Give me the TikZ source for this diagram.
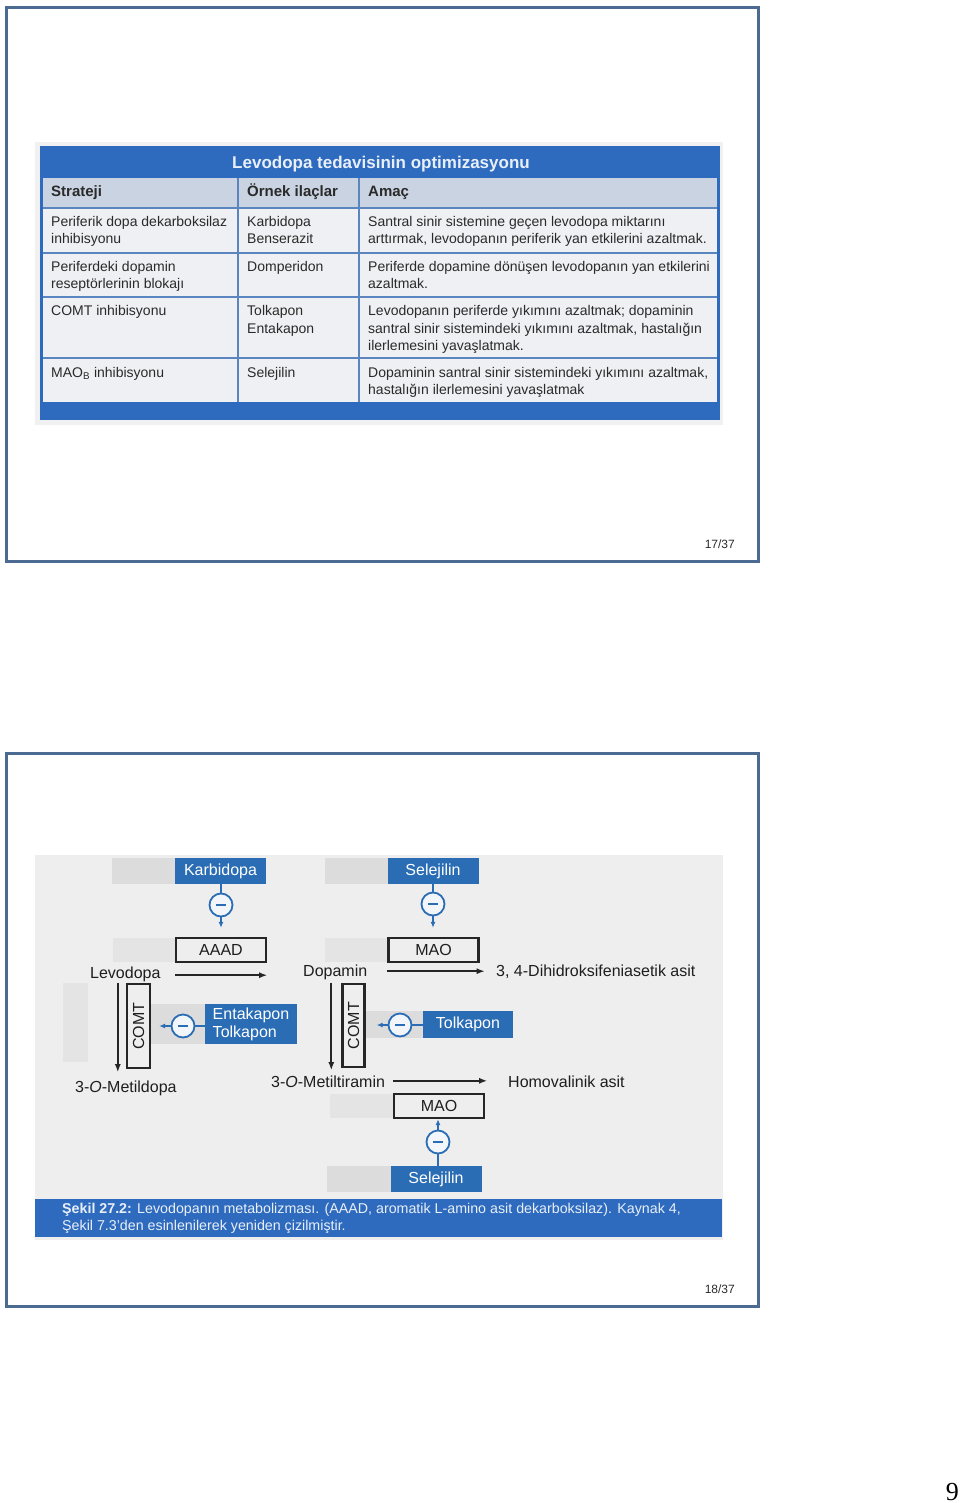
\documentclass[tikz,border=0pt]{standalone}
\usepackage{fontspec}
\setmainfont{Liberation Sans}
\newfontfamily\pgserif{Liberation Serif}
\usetikzlibrary{arrows.meta}
\definecolor{frameblue}{HTML}{4B6B93}
\definecolor{tblue}{HTML}{2E6BBE}
\definecolor{sepblue}{HTML}{5A85BE}
\definecolor{hdrbg}{HTML}{C9D3E1}
\definecolor{rowbg}{HTML}{EEF0F3}
\definecolor{scanbg}{HTML}{F1F1F1}
\definecolor{diagbg}{HTML}{EEEEEE}
\definecolor{greyblk}{HTML}{DCDCDC}
\definecolor{greylt}{HTML}{E4E4E4}
\definecolor{dblue}{HTML}{2A6DB5}
\definecolor{tabtext}{HTML}{2A2A2A}
\definecolor{dtext}{HTML}{1E1E1E}
\definecolor{captext}{HTML}{E9EFF8}
\definecolor{circfill}{HTML}{F2F5F9}
\tikzset{
  slideframe/.style={draw=frameblue, line width=3pt},
  cell/.style={anchor=base west, inner sep=0pt, text=tabtext, font=\fontsize{14}{17}\selectfont},
  hdrcell/.style={anchor=base west, inner sep=0pt, text=tabtext, font=\bfseries\fontsize{15}{17}\selectfont},
  dlabel/.style={anchor=base west, inner sep=0pt, text=dtext, font=\fontsize{16}{18}\selectfont},
  bluebox/.style={fill=dblue, text=white, minimum width=91pt, minimum height=26pt, inner sep=0pt, font=\fontsize{16}{18}\selectfont},
  enzbox/.style={draw=black!85, line width=2.4pt, minimum width=90pt, minimum height=24pt, inner sep=0pt, text=dtext, font=\fontsize{16}{18}\selectfont},
  inhib/.style={circle, draw=dblue, line width=1.8pt, fill=circfill, minimum size=23pt, inner sep=0pt,
    path picture={\draw[dblue, line width=2.8pt] ([xshift=-5pt]path picture bounding box.center) -- ([xshift=5pt]path picture bounding box.center);}},
  inhline/.style={draw=dblue, line width=1.9pt},
  inharrow/.style={draw=dblue, line width=1.9pt, -{Latex[length=6pt,width=5pt]}},
  flow/.style={draw=black!85, line width=2.2pt, -{Latex[length=8pt,width=6pt]}},
  pagenum/.style={anchor=base east, inner sep=0pt, text=tabtext, font=\fontsize{12}{14}\selectfont}
}
\begin{document}
\begin{tikzpicture}[x=1pt,y=-1pt]
\useasboundingbox[fill=white] (0,0) rectangle (960,1503);

% ---------- slide frames ----------
\draw[slideframe] (6,8) rectangle (758,561);
\draw[slideframe] (6,753) rectangle (758,1306);

% ---------- table (slide 17) ----------
\fill[scanbg] (35,142) rectangle (723,425);
\fill[rowbg] (40,146) rectangle (720,420);
\fill[tblue] (40,146) rectangle (720,178);
\fill[hdrbg] (43,178) rectangle (717,208);
\fill[tblue] (40,402) rectangle (720,420);
\draw[tblue, line width=3pt] (41.5,178) -- (41.5,402);
\draw[tblue, line width=3pt] (718.5,178) -- (718.5,402);
\foreach \yy in {208,253,297,358}{\draw[sepblue, line width=1.5pt] (43,\yy) -- (717,\yy);}
\foreach \xx in {238,359}{\draw[sepblue, line width=1.5pt] (\xx,178) -- (\xx,402);}

\node[anchor=base, inner sep=0pt, text=captext, font=\bfseries\fontsize{17}{20}\selectfont] (ttl) at (381,169) {Levodopa tedavisinin optimizasyonu};
\node[hdrcell] (h1) at (51,197) {Strateji};
\node[hdrcell] (h2) at (247,197) {Örnek ilaçlar};
\node[hdrcell] (h3) at (368,197) {Amaç};

\node[cell] (a1) at (51,227) {Periferik dopa dekarboksilaz};
\node[cell] (a1b) at (51,244) {inhibisyonu};
\node[cell] (b1) at (247,227) {Karbidopa};
\node[cell] (b1b) at (247,244) {Benserazit};
\node[cell] (c1t) at (368,227) {Santral sinir sistemine geçen levodopa miktarını};
\node[cell] (c1b) at (368,244) {arttırmak, levodopanın periferik yan etkilerini azaltmak.};

\node[cell] (a2) at (51,272) {Periferdeki dopamin};
\node[cell] (a2b) at (51,289) {reseptörlerinin blokajı};
\node[cell] (b2) at (247,272) {Domperidon};
\node[cell] (c2t) at (368,272) {Periferde dopamine dönüşen levodopanın yan etkilerini};
\node[cell] (c2b) at (368,289) {azaltmak.};

\node[cell] (a3) at (51,316) {COMT inhibisyonu};
\node[cell] (b3) at (247,316) {Tolkapon};
\node[cell] (b3b) at (247,333) {Entakapon};
\node[cell] (c3t) at (368,316) {Levodopanın periferde yıkımını azaltmak; dopaminin};
\node[cell] (c3m) at (368,333) {santral sinir sistemindeki yıkımını azaltmak, hastalığın};
\node[cell] (c3b) at (368,350) {ilerlemesini yavaşlatmak.};

\node[cell] (a4) at (51,377) {MAO\textsubscript{B} inhibisyonu};
\node[cell] (b4) at (247,377) {Selejilin};
\node[cell] (c4t) at (368,377) {Dopaminin santral sinir sistemindeki yıkımını azaltmak,};
\node[cell] (c4b) at (368,394) {hastalığın ilerlemesini yavaşlatmak};

\node[pagenum] (p17) at (735,548) {17/37};

% ---------- diagram (slide 18) ----------
\fill[diagbg] (35,855) rectangle (723,1240);
% grey shadow blocks
\fill[greyblk] (112,858) rectangle (176,884);
\fill[greyblk] (325,858) rectangle (389,884);
\fill[greylt] (113,938) rectangle (176,962);
\fill[greylt] (325,938) rectangle (389,962);
\fill[greylt] (63,983) rectangle (88,1062);
\fill[greyblk] (150,1004) rectangle (206,1044);
\fill[greyblk] (366,1011) rectangle (424,1038);
\fill[greylt] (330,1094) rectangle (394,1118);
\fill[greyblk] (327,1166) rectangle (392,1192);

% blue drug boxes
\node[bluebox] (kb) at (220.5,871) {Karbidopa};
\node[bluebox] (sel1) at (433,871) {Selejilin};
\node[bluebox, minimum width=92pt, minimum height=40pt, align=left, font=\fontsize{16}{18}\selectfont] (ent) at (251,1024) {Entakapon\\Tolkapon};
\node[bluebox, minimum width=90pt, minimum height=27pt] (tol) at (468,1024.5) {Tolkapon};
\node[bluebox] (sel2) at (436,1179) {Selejilin};

% enzyme boxes
\node[enzbox] (aaad) at (221,950) {AAAD};
\node[enzbox] (mao1) at (433.5,950) {MAO};
\node[enzbox] (mao2) at (439,1106) {MAO};
\node[enzbox, minimum width=23pt, minimum height=84pt] (comt1) at (138.5,1026) {};
\node[rotate=90, inner sep=0pt, text=dtext, font=\fontsize{16}{18}\selectfont] (comt1t) at (comt1.center) {COMT};
\node[enzbox, minimum width=22pt, minimum height=83pt] (comt2) at (353.5,1025.5) {};
\node[rotate=90, inner sep=0pt, text=dtext, font=\fontsize{16}{18}\selectfont] (comt2t) at (comt2.center) {COMT};

% inhibition circles
\node[inhib] (i1) at (221,905) {};
\node[inhib] (i2) at (433,904) {};
\node[inhib] (i3) at (183,1026) {};
\node[inhib] (i4) at (400,1025) {};
\node[inhib] (i5) at (438,1142) {};

\draw[inhline] (i1.north |- kb.south) -- (i1.north);
\draw[inharrow] (i1.south) -- ([yshift=9pt]i1.south |- aaad.north);
\draw[inhline] (i2.north |- sel1.south) -- (i2.north);
\draw[inharrow] (i2.south) -- ([yshift=9pt]i2.south |- mao1.north);
\draw[inhline] (ent.west |- i3.east) -- (i3.east);
\draw[inharrow] (i3.west) -- ([xshift=8pt]comt1.east |- i3.west);
\draw[inhline] (tol.west |- i4.east) -- (i4.east);
\draw[inharrow] (i4.west) -- ([xshift=11pt]comt2.east |- i4.west);
\draw[inhline] (i5.south |- sel2.north) -- (i5.south);
\draw[inharrow] (i5.north) -- (i5.north |- mao2.south);

% labels
\node[dlabel] (lev) at (90,978) {Levodopa};
\node[dlabel] (dop) at (303,976) {Dopamin};
\node[dlabel] (dhpa) at (496,976) {3, 4-Dihidroksifeniasetik asit};
\node[dlabel] (mtd) at (75,1092) {3-\textit{O}-Metildopa};
\node[dlabel] (mtt) at (271,1087) {3-\textit{O}-Metiltiramin};
\node[dlabel] (hva) at (508,1087) {Homovalinik asit};

% main flow arrows
\draw[flow] ([yshift=-12pt]aaad.south west) -- ([yshift=-12pt]aaad.south east);
\draw[flow] ([yshift=-8pt]mao1.south west) -- ([xshift=5pt,yshift=-8pt]mao1.south east);
\draw[flow] ([xshift=-8pt]comt1.north west) -- ([xshift=-8pt,yshift=-3pt]comt1.south west);
\draw[flow] ([xshift=-10pt]comt2.north west) -- ([xshift=-10pt,yshift=-2pt]comt2.south west);
\draw[flow] ([yshift=12pt]mao2.north west) -- ([xshift=2pt,yshift=12pt]mao2.north east);

% caption bar
\fill[tblue] (35,1199) rectangle (722,1237);
\node[anchor=base west, inner sep=0pt, text=captext, font=\fontsize{14.25}{17}\selectfont] (cap1) at (62,1213) {\textbf{Şekil 27.2:} Levodopanın metabolizması. (AAAD, aromatik L-amino asit dekarboksilaz). Kaynak 4,};
\node[anchor=base west, inner sep=0pt, text=captext, font=\fontsize{14.25}{17}\selectfont] (cap2) at (62,1230) {Şekil 7.3’den esinlenilerek yeniden çizilmiştir.};

\node[pagenum] (p18) at (735,1293) {18/37};

% page number
\node[anchor=base east, inner sep=0pt, text=black, font=\pgserif\fontsize{26}{28}\selectfont] (pg) at (959,1500) {9};
\end{tikzpicture}
\end{document}
